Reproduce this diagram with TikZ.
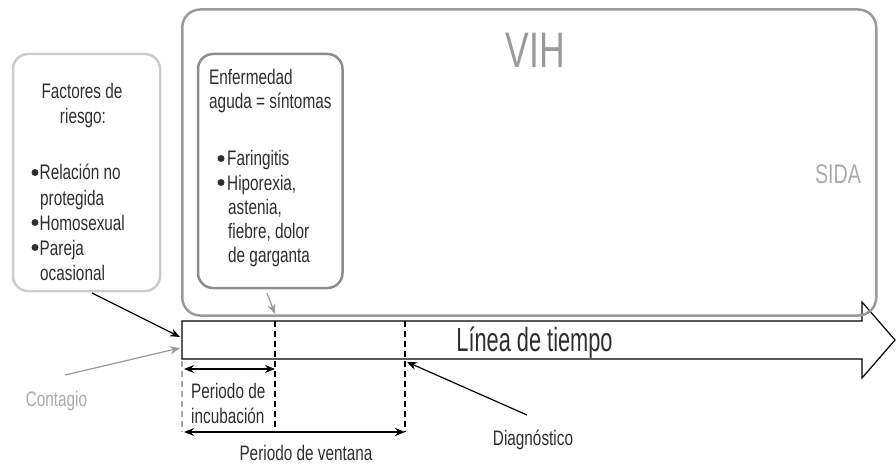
\documentclass[tikz,border=0pt]{standalone}
\usepackage{fontspec}
\setmainfont{Liberation Sans}
\newfontfamily\fa[FakeStretch=0.73]{Liberation Sans}
\newfontfamily\fb[FakeStretch=0.65]{Liberation Sans}
\newfontfamily\fc[FakeStretch=0.71]{Liberation Sans}
\usetikzlibrary{arrows.meta}
\definecolor{txt}{HTML}{2E2E2E}
\definecolor{vihgray}{HTML}{9A9A9A}
\definecolor{enfgray}{HTML}{8C8C8C}
\definecolor{facgray}{HTML}{CCCCCC}
\definecolor{lightt}{HTML}{AAAAAA}
\definecolor{arrgray}{HTML}{999999}
\tikzset{
  tline/.style={font=\fa\fontsize{21}{25}\selectfont, text=txt, inner sep=0pt, anchor=base west},
  tlinec/.style={tline, anchor=base},
  bul/.style={circle, fill=txt, minimum size=7pt, inner sep=0pt},
  boxr/.style={draw, line width=2.5pt, rounded corners=15pt, inner sep=0pt},
  dsh/.style={dash pattern=on 6pt off 4pt, line width=1.2pt},
  dbl/.style={{Stealth[length=10pt,width=8pt]}-{Stealth[length=10pt,width=8pt]}, line width=1.2pt},
  pnt/.style={-{Stealth[length=10pt,width=8pt]}, line width=1.2pt}
}
\begin{document}
\begin{tikzpicture}[x=1pt,y=-1pt]
\useasboundingbox (0,0) rectangle (896,465);
% time line arrow
\coordinate (t1) at (182,321);
\coordinate (t2) at (862,321);
\coordinate (t3) at (862,302);
\coordinate (t4) at (895,340);
\coordinate (t5) at (862,378);
\coordinate (t6) at (862,359);
\coordinate (t7) at (182,359);
\draw[line width=1.2pt, fill=white] (t1) -- (t2) -- (t3) -- (t4) -- (t5) -- (t6) -- (t7) -- cycle;
\node[font=\fb\fontsize{33.5}{34}\selectfont, text=txt, inner sep=0pt, anchor=base] (tl) at (534.5,351.5) {Línea de tiempo};
% VIH box
\node[boxr, draw=vihgray, rounded corners=18pt, minimum width=694pt, minimum height=306pt] (vih) at (529.25,162.5) {};
\node[font=\fc\fontsize{50}{50}\selectfont, text=vihgray, inner sep=0pt, anchor=base] (vihl) at (535.5,68) {VIH};
\node[font=\fa\fontsize{27}{27}\selectfont, text=lightt, inner sep=0pt, anchor=base] (sida) at (838,183) {SIDA};
% Factores box
\node[boxr, draw=facgray, minimum width=147pt, minimum height=237pt] (fac) at (86.5,172.5) {};
\node[tlinec] (f1) at (82,99) {Factores de};
\node[tlinec] (f2) at (83,124) {riesgo:};
\node[bul] (fb1) at (35,172.5) {};
\node[tline] (f3) at (39.5,180) {Relación no};
\node[tline] (f4) at (40,205) {protegida};
\node[bul] (fb2) at (35,222.5) {};
\node[tline] (f5) at (39.5,230) {Homosexual};
\node[bul] (fb3) at (35,247.5) {};
\node[tline] (f6) at (39.5,255) {Pareja};
\node[tline] (f7) at (40,280) {ocasional};
% Enfermedad box
\node[boxr, draw=enfgray, minimum width=144.5pt, minimum height=234pt] (enf) at (270.25,171) {};
\node[tline] (e1) at (209,85) {Enfermedad};
\node[tline] (e2) at (209,109) {aguda = síntomas};
\node[bul] (eb1) at (221,158.5) {};
\node[tline] (e3) at (227,166) {Faringitis};
\node[bul] (eb2) at (221,182.5) {};
\node[tline] (e4) at (227,190) {Hiporexia,};
\node[tline] (e5) at (228,214) {astenia,};
\node[tline] (e6) at (228,238) {fiebre, dolor};
\node[tline] (e7) at (228,262) {de garganta};
% dashed markers
\coordinate (d0a) at (182,361);
\coordinate (d0b) at (182,432);
\coordinate (d1a) at (275,321);
\coordinate (d1b) at (275,432);
\coordinate (d2a) at (405,321);
\coordinate (d2b) at (405,432);
\draw[dsh, draw=lightt] (d0a) -- (d0b);
\draw[dsh] (d1a) -- (d1b);
\draw[dsh] (d2a) -- (d2b);
% periods
\coordinate (p1a) at (184,369);
\coordinate (p1b) at (275,369);
\coordinate (p2a) at (184,432);
\coordinate (p2b) at (405,432);
\draw[dbl] (p1a) -- (p1b);
\draw[dbl] (p2a) -- (p2b);
\node[tline] (inc1) at (191,398) {Periodo de};
\node[tline] (inc2) at (191,423) {incubación};
\node[tlinec] (ven) at (306,460) {Periodo de ventana};
% labels and pointers
\node[tlinec, text=lightt] (cont) at (56.5,406) {Contagio};
\node[tlinec] (diag) at (533,445.5) {Diagnóstico};
\coordinate (cA) at (65,375);
\coordinate (cB) at (180,348);
\coordinate (fA) at (92,293);
\coordinate (fB) at (180,337);
\coordinate (eA) at (267,293);
\coordinate (eB) at (275,314);
\coordinate (gA) at (527,415);
\coordinate (gB) at (407,362);
\draw[pnt, draw=arrgray] (cA) -- (cB);
\draw[pnt] (fA) -- (fB);
\draw[pnt, draw=arrgray] (eA) -- (eB);
\draw[pnt] (gA) -- (gB);
\end{tikzpicture}
\end{document}
